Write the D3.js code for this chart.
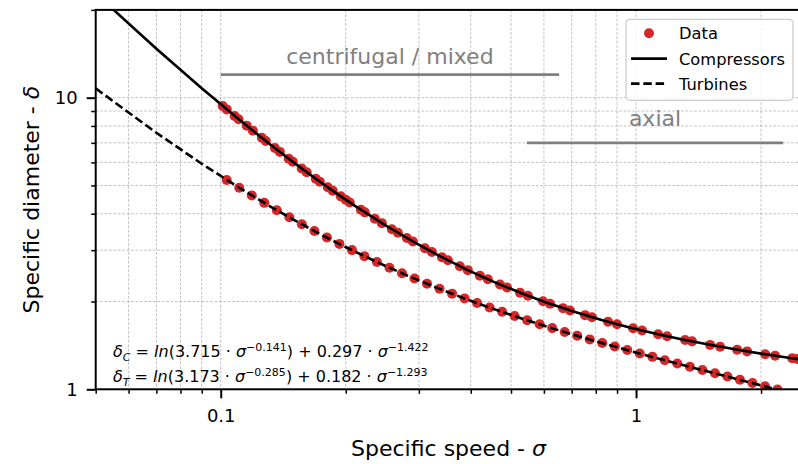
<!DOCTYPE html>
<html lang="en">
<head>
<meta charset="utf-8">
<title>Specific speed vs specific diameter</title>
<script src="https://cdn.jsdelivr.net/npm/d3@7/dist/d3.min.js"></script>
<style>
  body { margin: 0; background: #fff; }
  text { font-family: "DejaVu Sans", sans-serif; white-space: pre; }
</style>
</head>
<body>
<script>
// ---- data ----
var compSigma = [0.1011, 0.1034, 0.1080, 0.1104, 0.1155, 0.1195, 0.1256, 0.1284, 0.1350, 0.1388,
  0.1458, 0.1491, 0.1567, 0.1611, 0.1694, 0.1732, 0.1811, 0.1861, 0.1946, 0.2000,
  0.2045, 0.2175, 0.2223, 0.2350, 0.2443, 0.2583, 0.2670, 0.2807, 0.2902, 0.3101,
  0.3225, 0.3409, 0.3524, 0.3765, 0.3936, 0.4207, 0.4398, 0.4702, 0.4889, 0.5255,
  0.5493, 0.5970, 0.6207, 0.6669, 0.6934, 0.7536, 0.7835, 0.8562, 0.9000, 0.9835,
  1.034, 1.130, 1.188, 1.313, 1.364, 1.508, 1.594, 1.752, 1.851, 2.046, 2.162, 2.377, 2.444];
var compDelta = [9.361, 9.117, 8.653, 8.432, 8.010, 7.709, 7.284, 7.105, 6.720, 6.518,
  6.174, 6.028, 5.716, 5.552, 5.272, 5.153, 4.927, 4.793, 4.588, 4.466,
  4.372, 4.128, 4.044, 3.845, 3.714, 3.539, 3.441, 3.301, 3.212, 3.047,
  2.957, 2.836, 2.769, 2.641, 2.562, 2.451, 2.383, 2.287, 2.235, 2.145,
  2.093, 2.004, 1.965, 1.898, 1.864, 1.796, 1.767, 1.705, 1.672, 1.619,
  1.591, 1.545, 1.521, 1.476, 1.460, 1.420, 1.400, 1.367, 1.349, 1.319, 1.303, 1.277, 1.270];

var turbSigma = [0.1034, 0.1108, 0.1188, 0.1273, 0.1365, 0.1463, 0.1568, 0.1681, 0.1802, 0.1931,
  0.2070, 0.2218, 0.2378, 0.2549, 0.2732, 0.2928, 0.3139, 0.3364, 0.3606, 0.3865,
  0.4143, 0.4441, 0.4760, 0.5102, 0.5468, 0.5861, 0.6282, 0.6734, 0.7218, 0.7736,
  0.8292, 0.8888, 0.9527, 1.021, 1.095, 1.173, 1.257, 1.348, 1.445, 1.549,
  1.660, 1.779, 1.907, 2.044, 2.191];
var turbDelta = [5.224, 4.911, 4.623, 4.358, 4.114, 3.889, 3.682, 3.491, 3.315, 3.152,
  3.001, 2.862, 2.732, 2.612, 2.501, 2.398, 2.301, 2.212, 2.128, 2.050,
  1.977, 1.908, 1.844, 1.783, 1.726, 1.672, 1.621, 1.573, 1.527, 1.483,
  1.441, 1.402, 1.364, 1.327, 1.292, 1.258, 1.226, 1.195, 1.164, 1.135,
  1.106, 1.078, 1.051, 1.024, 0.998];

// fitted curves, sampled
var lineSigma = [0.05, 0.07, 0.09, 0.11, 0.13, 0.15, 0.17, 0.19, 0.21, 0.25, 0.29, 0.33, 0.39,
  0.45, 0.53, 0.61, 0.71, 0.83, 0.97, 1.13, 1.31, 1.53, 1.77, 2.05, 2.35, 2.49];
var compLine = [22.76, 14.72, 10.77, 8.477, 7.005, 5.989, 5.252, 4.697, 4.265, 3.640, 3.214, 2.906, 2.578,
  2.350, 2.134, 1.982, 1.844, 1.726, 1.627, 1.545, 1.477, 1.415, 1.364, 1.318, 1.280, 1.265];
var turbLine = [10.76, 7.579, 5.936, 4.943, 4.281, 3.811, 3.459, 3.186, 2.969, 2.643, 2.410, 2.234, 2.038,
  1.893, 1.749, 1.640, 1.536, 1.439, 1.353, 1.275, 1.206, 1.139, 1.079, 1.022, 0.9715, 0.9506];

// machine type ranges
var regionNames = ["centrifugal / mixed", "axial"];
var regionFrom = [0.1, 0.546];
var regionTo = [0.653, 2.26];
var regionLevel = [12, 7];
var regionLabelLevel = [13, 8];

var xMajorTicks = [0.1, 1];
var xTickLabels = ["0.1", "1"];
var yMajorTicks = [1, 10];
var yTickLabels = ["1", "10"];

var legendNames = ["Data", "Compressors", "Turbines"];

// ---- layout ----
var width = 798, height = 464;
var m = { left: 95.7, right: 801.3, top: 9.9, bottom: 389.3 };
var red = "#d62728";
var lw = 2.6, dash = "8.5,3.8";

var svg = d3.select("body").append("svg").attr("width", width).attr("height", height);

var x = d3.scaleLog().domain([0.05, 2.5]).range([m.left, m.right]);
var y = d3.scaleLog().domain([1, 20]).range([m.bottom, m.top]);

svg.append("defs").append("clipPath").attr("id", "plot")
  .append("rect").attr("x", m.left).attr("y", m.top)
  .attr("width", m.right - m.left).attr("height", m.bottom - m.top);

// grid (major + minor)
var grid = svg.append("g").attr("stroke", "#b4b4b4").attr("stroke-width", 0.8)
  .attr("stroke-dasharray", "2.8,1.6");
grid.selectAll(".gx").data(x.ticks()).enter().append("line")
  .attr("x1", d => x(d)).attr("x2", d => x(d)).attr("y1", m.top).attr("y2", m.bottom);
grid.selectAll(".gy").data(y.ticks()).enter().append("line")
  .attr("y1", d => y(d)).attr("y2", d => y(d)).attr("x1", m.left).attr("x2", m.right);

var plot = svg.append("g").attr("clip-path", "url(#plot)");

// region bars and labels
regionNames.forEach(function (name, i) {
  var x0 = x(regionFrom[i]), x1 = x(regionTo[i]);
  plot.append("line").attr("x1", x0).attr("x2", x1)
    .attr("y1", y(regionLevel[i])).attr("y2", y(regionLevel[i]))
    .attr("stroke", "#808080").attr("stroke-width", 2.7);
  svg.append("text").attr("x", (x0 + x1) / 2).attr("y", y(regionLabelLevel[i]))
    .attr("text-anchor", "middle").attr("font-size", 22).attr("fill", "#808080")
    .text(name);
});

// data points
var compPts = compSigma.map((s, i) => [s, compDelta[i]]);
var turbPts = turbSigma.map((s, i) => [s, turbDelta[i]]);
plot.selectAll(".dot").data(compPts.concat(turbPts)).enter().append("circle")
  .attr("cx", d => x(d[0])).attr("cy", d => y(d[1])).attr("r", 5).attr("fill", red);

// fitted curves
var line = d3.line().x(d => x(d[0])).y(d => y(d[1]));
plot.append("path").datum(lineSigma.map((s, i) => [s, compLine[i]]))
  .attr("d", line).attr("fill", "none").attr("stroke", "#000").attr("stroke-width", lw);
plot.append("path").datum(lineSigma.map((s, i) => [s, turbLine[i]]))
  .attr("d", line).attr("fill", "none").attr("stroke", "#000").attr("stroke-width", lw)
  .attr("stroke-dasharray", dash);

// axes
function styleAxis(g) {
  g.select(".domain").remove();
  g.selectAll("line").attr("stroke", "#000");
  g.selectAll("text").attr("font-size", 18).attr("font-family", "DejaVu Sans").attr("fill", "#000");
}
var xMinor = x.ticks().filter(d => xMajorTicks.indexOf(d) < 0);
var yMinor = y.ticks().filter(d => yMajorTicks.indexOf(d) < 0);

svg.append("g").attr("transform", "translate(0," + m.bottom + ")")
  .call(d3.axisBottom(x).tickValues(xMinor).tickSize(4.5).tickFormat(""))
  .call(styleAxis).selectAll("line").attr("stroke-width", 1.5);
svg.append("g").attr("transform", "translate(0," + m.bottom + ")")
  .call(d3.axisBottom(x).tickValues(xMajorTicks).tickSize(9).tickPadding(11)
    .tickFormat((d, i) => xTickLabels[i]))
  .call(styleAxis).selectAll("line").attr("stroke-width", 2);
svg.append("g").attr("transform", "translate(" + m.left + ",0)")
  .call(d3.axisLeft(y).tickValues(yMinor).tickSize(4.5).tickFormat(""))
  .call(styleAxis).selectAll("line").attr("stroke-width", 1.5);
svg.append("g").attr("transform", "translate(" + m.left + ",0)")
  .call(d3.axisLeft(y).tickValues(yMajorTicks).tickSize(9).tickPadding(9)
    .tickFormat((d, i) => yTickLabels[i]))
  .call(styleAxis).selectAll("line").attr("stroke-width", 2);

// spines
svg.append("rect").attr("x", m.left).attr("y", m.top)
  .attr("width", m.right - m.left).attr("height", m.bottom - m.top)
  .attr("stroke", "#000").attr("stroke-width", 2).attr("fill", "none");

// axis labels
var xl = svg.append("text").attr("x", (m.left + m.right) / 2).attr("y", 456)
  .attr("text-anchor", "middle").attr("font-size", 22);
xl.append("tspan").text("Specific speed - ");
xl.append("tspan").attr("font-style", "italic").text("σ");

var yl = svg.append("text").attr("transform", "translate(38.5," + (m.top + m.bottom) / 2 + ") rotate(-90)")
  .attr("text-anchor", "middle").attr("font-size", 22);
yl.append("tspan").text("Specific diameter - ");
yl.append("tspan").attr("font-style", "italic").text("δ");

// equations
function equation(yPos, parts) {
  var t = svg.append("text").attr("x", 113).attr("y", yPos).attr("font-size", 16);
  var cur = 0;
  parts.forEach(function (p) {
    var shift = p[1] === "sub" ? 3.8 : (p[1] === "sup" ? -6.5 : 0);
    var ts = t.append("tspan").attr("dy", shift - cur).text(p[0]);
    if (p[1] === "sub" || p[1] === "sup") ts.attr("font-size", 11);
    if (p[1] === "i" || p[2] === "i") ts.attr("font-style", "italic");
    cur = shift;
  });
}
equation(357, [["δ", "i"], ["C", "sub", "i"], [" = ", "n"], ["ln", "i"], ["(3.715 · ", "n"], ["σ", "i"],
  ["−0.141", "sup"], [") + 0.297 · ", "n"], ["σ", "i"], ["−1.422", "sup"]]);
equation(382, [["δ", "i"], ["T", "sub", "i"], [" = ", "n"], ["ln", "i"], ["(3.173 · ", "n"], ["σ", "i"],
  ["−0.285", "sup"], [") + 0.182 · ", "n"], ["σ", "i"], ["−1.293", "sup"]]);

// legend
var lg = svg.append("g");
lg.append("rect").attr("x", 626).attr("y", 19.3).attr("width", 167).attr("height", 81).attr("rx", 4)
  .attr("fill", "#fff").attr("fill-opacity", 0.8).attr("stroke", "#cccccc").attr("stroke-width", 1.3);
var rowY = [33.3, 58.6, 83.6];
lg.append("circle").attr("cx", 649).attr("cy", rowY[0]).attr("r", 5).attr("fill", red);
lg.append("line").attr("x1", 631).attr("x2", 667).attr("y1", rowY[1]).attr("y2", rowY[1])
  .attr("stroke", "#000").attr("stroke-width", lw);
lg.append("line").attr("x1", 631).attr("x2", 667).attr("y1", rowY[2]).attr("y2", rowY[2])
  .attr("stroke", "#000").attr("stroke-width", lw).attr("stroke-dasharray", dash);
legendNames.forEach(function (n, i) {
  lg.append("text").attr("x", 679).attr("y", rowY[i] + 6).attr("font-size", 16.3).text(n);
});
</script>
</body>
</html>
